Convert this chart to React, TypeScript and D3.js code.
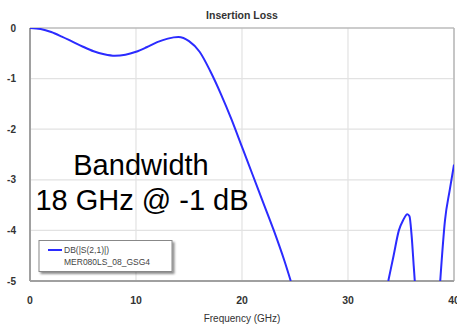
import React from "react";
import * as d3 from "d3";

const mainFreq = [0, 1, 2, 3, 4, 5, 6, 7, 8, 9, 10, 11, 12, 13, 14, 15, 16, 17, 18, 19, 20, 21, 22, 23, 24, 24.6];
const mainDb = [0, -0.02, -0.08, -0.17, -0.27, -0.37, -0.46, -0.52, -0.55, -0.53, -0.47, -0.38, -0.28, -0.21, -0.18, -0.26, -0.47, -0.85, -1.3, -1.8, -2.35, -2.9, -3.45, -4.0, -4.6, -5.0];
const peakFreq = [33.8, 34.3, 34.8, 35.2, 35.6, 35.8, 36.0, 36.2, 36.3];
const peakDb = [-5, -4.5, -4.0, -3.8, -3.68, -3.72, -4.1, -4.7, -5];
const tailFreq = [38.7, 39.15, 39.6, 40];
const tailDb = [-5, -3.8, -3.2, -2.7];

const xTicks = [0, 10, 20, 30, 40];
const yTicks = [0, -1, -2, -3, -4, -5];

const segments = [
  { f: mainFreq, v: mainDb },
  { f: peakFreq, v: peakDb },
  { f: tailFreq, v: tailDb },
];

export default function App() {
  const W = 457, H = 327;
  const left = 30, right = 454, top = 28, bottom = 281;
  const x = d3.scaleLinear().domain([0, 40]).range([left, right]);
  const y = d3.scaleLinear().domain([-5, 0]).range([bottom, top]);
  const line = d3
    .line<[number, number]>()
    .x((d) => x(d[0]))
    .y((d) => y(d[1]))
    .curve(d3.curveMonotoneX);

  return (
    <svg width={W} height={H} style={{ position: "absolute", left: 0, top: 0, background: "#fff" }} fontFamily="Arial, Liberation Sans, sans-serif">
      <defs>
        <clipPath id="plot">
          <rect x={left} y={top} width={right - left} height={bottom - top} />
        </clipPath>
        <filter id="sh" x="-10%" y="-10%" width="130%" height="140%">
          <feDropShadow dx="2" dy="2" stdDeviation="1.2" floodColor="#000" floodOpacity="0.45" />
        </filter>
      </defs>
      <rect x={0} y={0} width={W} height={H} fill="#fff" />
      <text x={141} y={-6} fontSize={28} fill="#000">y</text>
      <text x={242} y={19} textAnchor="middle" fontSize={10.5} fontWeight="bold" fill="#333">Insertion Loss</text>
      {xTicks.map((t) => (
        <line key={"gx" + t} x1={x(t)} x2={x(t)} y1={top} y2={bottom} stroke="#e2e2e2" strokeWidth={1.2} />
      ))}
      {yTicks.map((t) => (
        <line key={"gy" + t} x1={left} x2={right} y1={y(t)} y2={y(t)} stroke="#e2e2e2" strokeWidth={1.2} />
      ))}
      <line x1={left} x2={right} y1={top} y2={top} stroke="#a8a8a8" strokeWidth={1.2} />
      <line x1={right} x2={right} y1={top} y2={bottom} stroke="#b8b8b8" strokeWidth={1.5} />
      <line x1={left} x2={left} y1={top} y2={bottom} stroke="#a0a0a0" strokeWidth={2} />
      <line x1={left} x2={right} y1={bottom} y2={bottom} stroke="#a0a0a0" strokeWidth={2} />
      <g clipPath="url(#plot)">
        {segments.map((s, i) => (
          <path key={i} d={line(s.f.map((f, j) => [f, s.v[j]] as [number, number])) || ""} fill="none" stroke="#2b2bff" strokeWidth={2} />
        ))}
      </g>
      {yTicks.map((t) => (
        <text key={"ty" + t} x={16} y={y(t) + 3.5} textAnchor="end" fontSize={10} fontWeight="bold" fill="#333">{t}</text>
      ))}
      {xTicks.map((t) => (
        <text key={"tx" + t} x={x(t)} y={304} textAnchor="middle" fontSize={10.5} fontWeight="bold" fill="#333">{t}</text>
      ))}
      <text x={242} y={322} textAnchor="middle" fontSize={10} fill="#333">Frequency (GHz)</text>
      <text x={141} y={175} textAnchor="middle" fontSize={29} fill="#000">Bandwidth</text>
      <text x={142} y={210} textAnchor="middle" fontSize={29} fill="#000">18 GHz @ -1 dB</text>
      <rect x={39} y={240.5} width={133} height={31} fill="#fff" stroke="#888" strokeWidth={1} filter="url(#sh)" />
      <line x1={48} x2={62} y1={250} y2={250} stroke="#2b2bff" strokeWidth={2} />
      <text x={64} y={253} fontSize={8.5} fill="#444">DB(|S(2,1)|)</text>
      <text x={64} y={265} fontSize={8.5} fill="#444">MER080LS_08_GSG4</text>
    </svg>
  );
}
